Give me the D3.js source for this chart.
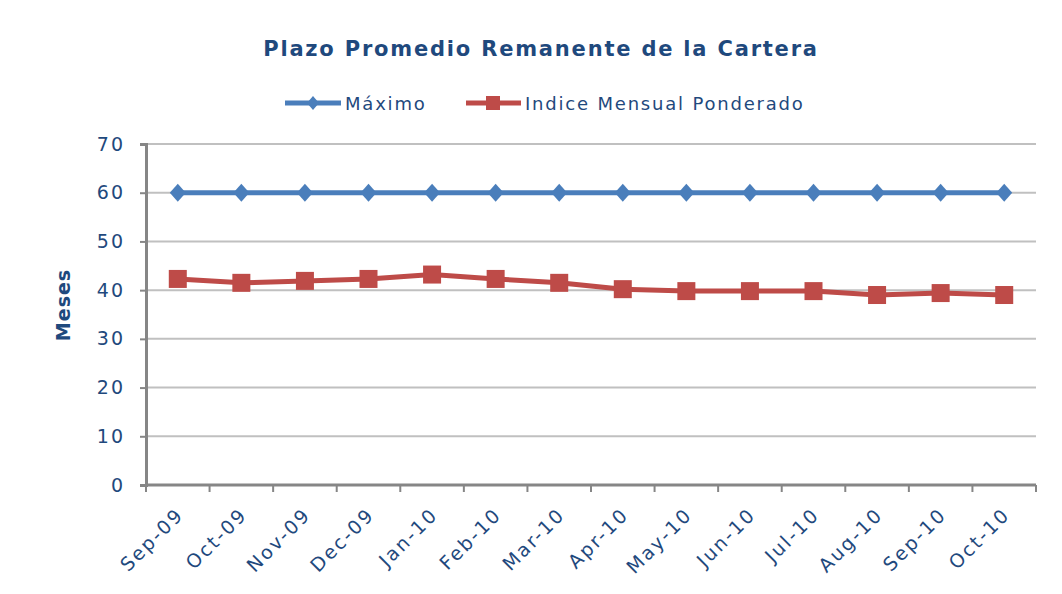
<!DOCTYPE html>
<html><head><meta charset="utf-8">
<script src="https://cdn.jsdelivr.net/npm/d3@7"></script>
<style>body{margin:0;background:#fff}</style>
</head><body>
<svg id="c" width="1062" height="594"></svg>
<script>
const categories = ["Sep-09","Oct-09","Nov-09","Dec-09","Jan-10","Feb-10","Mar-10","Apr-10","May-10","Jun-10","Jul-10","Aug-10","Sep-10","Oct-10"];
const maximo = [60,60,60,60,60,60,60,60,60,60,60,60,60,60];
const indice = [42.3,41.5,41.9,42.3,43.2,42.3,41.5,40.2,39.8,39.8,39.8,39.0,39.4,39.0];
const yTicks = [0,10,20,30,40,50,60,70];

const textColor = "#1F497D";
const font = "DejaVu Sans, Verdana, sans-serif";
const svg = d3.select("#c");
const m = {left:146, right:1036, top:144, bottom:485};

const x = d3.scaleBand().domain(categories).range([m.left, m.right]).paddingInner(0).paddingOuter(0);
const y = d3.scaleLinear().domain([0,70]).range([m.bottom, m.top]);

// gridlines
svg.append("g").selectAll("line").data(yTicks.filter(d=>d>0)).join("line")
  .attr("x1", m.left).attr("x2", m.right)
  .attr("y1", d=>y(d)).attr("y2", d=>y(d))
  .attr("stroke","#C0C0C0").attr("stroke-width",2);

// y axis
const ya = svg.append("g").attr("transform",`translate(${m.left},0)`)
  .call(d3.axisLeft(y).tickValues(yTicks).tickSize(6).tickPadding(15));
ya.select(".domain").attr("stroke","#868686").attr("stroke-width",3);
ya.selectAll(".tick line").attr("stroke","#868686").attr("stroke-width",2);
ya.selectAll(".tick text").attr("fill",textColor).style("font-family",font).style("font-size","19px").style("letter-spacing","2px");

// x axis
const xa = svg.append("g").attr("transform",`translate(0,${m.bottom})`);
xa.append("line").attr("x1",m.left-1).attr("x2",m.right).attr("y1",0).attr("y2",0)
  .attr("stroke","#868686").attr("stroke-width",3);
const bounds = categories.map(c=>x(c)).concat([x(categories[categories.length-1])+x.bandwidth()]);
xa.selectAll("line.tk").data(bounds).join("line").attr("class","tk")
  .attr("x1",d=>d).attr("x2",d=>d).attr("y1",0).attr("y2",7)
  .attr("stroke","#868686").attr("stroke-width",2);
xa.selectAll("text").data(categories).join("text")
  .attr("transform",d=>`translate(${x(d)+x.bandwidth()/2+7},${31}) rotate(-45)`)
  .attr("text-anchor","end")
  .attr("fill",textColor).style("font-family",font).style("font-size","19px").style("letter-spacing","2.2px")
  .text(d=>d);

// lines
const cx = d=>x(d)+x.bandwidth()/2;
const line = d3.line().x((d,i)=>cx(categories[i])).y(d=>y(d));
svg.append("path").datum(maximo).attr("d",line).attr("fill","none").attr("stroke","#4A7EBB").attr("stroke-width",5);
svg.append("path").datum(indice).attr("d",line).attr("fill","none").attr("stroke","#BE4B48").attr("stroke-width",5);

svg.append("g").selectAll("path").data(maximo).join("path")
  .attr("transform",(d,i)=>`translate(${cx(categories[i])},${y(d)})`)
  .attr("d","M0,-9L8,0L0,9L-8,0Z")
  .attr("fill","#4A7EBB");
svg.append("g").selectAll("rect").data(indice).join("rect")
  .attr("x",(d,i)=>cx(categories[i])-9).attr("y",d=>y(d)-9)
  .attr("width",18).attr("height",18).attr("fill","#BE4B48");

// title
svg.append("text").attr("x",541).attr("y",56).attr("text-anchor","middle")
  .attr("fill",textColor).style("font-family",font).style("font-size","21px").style("font-weight","bold").style("letter-spacing","1.8px")
  .text("Plazo Promedio Remanente de la Cartera");

// legend
const lg = svg.append("g");
lg.append("line").attr("x1",285).attr("x2",341).attr("y1",103).attr("y2",103).attr("stroke","#4A7EBB").attr("stroke-width",5);
lg.append("path").attr("transform","translate(313,103)").attr("d","M0,-7L6,0L0,7L-6,0Z").attr("fill","#4A7EBB");
lg.append("text").attr("x",345).attr("y",110).attr("fill",textColor).style("font-family",font).style("font-size","18px").style("letter-spacing","1.8px").text("Máximo");
lg.append("line").attr("x1",466).attr("x2",521).attr("y1",103).attr("y2",103).attr("stroke","#BE4B48").attr("stroke-width",5);
lg.append("rect").attr("x",486).attr("y",96).attr("width",14).attr("height",14).attr("fill","#BE4B48");
lg.append("text").attr("x",525).attr("y",110).attr("fill",textColor).style("font-family",font).style("font-size","18px").style("letter-spacing","1.8px").text("Indice Mensual Ponderado");

// y label
svg.append("text").attr("transform","translate(70,305) rotate(-90)").attr("text-anchor","middle")
  .attr("fill",textColor).style("font-family",font).style("font-size","19px").style("font-weight","bold").style("letter-spacing","1px")
  .text("Meses");
</script>
</body></html>
